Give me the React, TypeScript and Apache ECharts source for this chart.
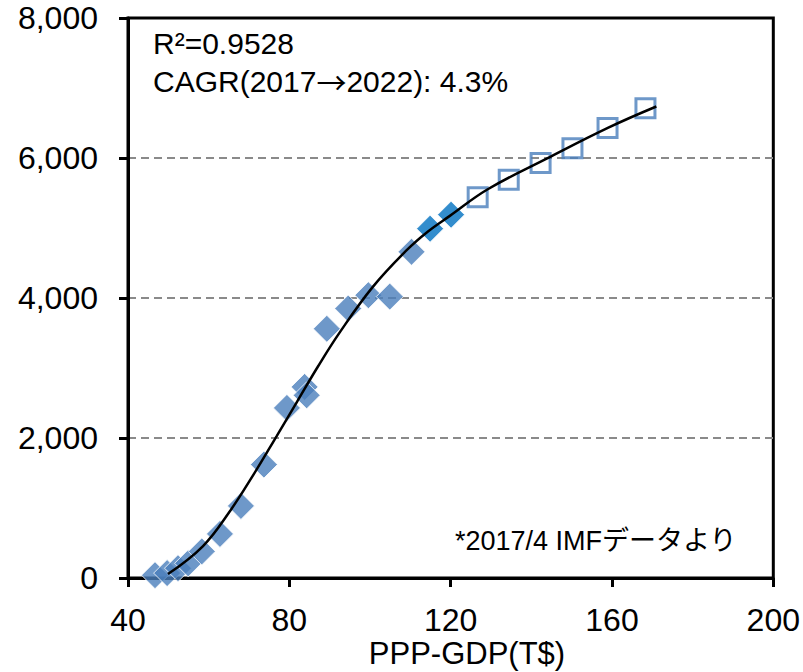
import React, { useEffect, useRef } from "react";
import * as echarts from "echarts";

// Actual data : PPP-GDP (T$) vs value
const actualX = [46.7, 49.7, 52.4, 54.9, 58.3, 62.8, 68.0, 73.7, 79.4, 83.8, 84.3, 89.3, 94.6, 99.6, 104.9, 110.3];
const actualY = [40, 70, 140, 210, 380, 630, 1030, 1620, 2430, 2730, 2610, 3560, 3850, 4040, 4020, 4660];

// Latest actual points (darker blue)
const recentX = [114.9, 120.1];
const recentY = [4990, 5190];

// Forecast points (hollow squares)
const forecastX = [126.7, 134.4, 142.3, 150.2, 158.9, 168.3];
const forecastY = [5440, 5690, 5930, 6140, 6430, 6710];

// Trend line
const trendX = [49.9, 58.6, 65.3, 71.0, 76.9, 81.9, 87.1, 92.5, 100.7, 109.1, 114.3, 119.8, 129.2, 143.8, 159.1, 171.0];
const trendY = [57, 457, 957, 1466, 2031, 2517, 3021, 3509, 4159, 4683, 4947, 5173, 5553, 5991, 6434, 6736];

const yTickLabels = ["0", "2,000", "4,000", "6,000", "8,000"];

const annotR2 = "R²=0.9528";
const annotCagrA = "CAGR(2017";
const annotCagrArrow = "→";
const annotCagrB = "2022): 4.3%";
const footnote = "*2017/4 IMFデータより";
const xTitle = "PPP-GDP(T$)";

const zip = (xs: number[], ys: number[]) => xs.map((x, i) => [x, ys[i]]);

export default function App() {
  const ref = useRef<HTMLDivElement>(null);
  useEffect(() => {
    const chart = echarts.init(ref.current as HTMLDivElement, null, { renderer: "svg" });
    const font = "'Liberation Sans', Arial, sans-serif";
    const cjk = "'Noto Sans CJK JP', sans-serif";
    chart.setOption({
      animation: false,
      backgroundColor: "#ffffff",
      textStyle: { fontFamily: font },
      grid: {
        left: 128,
        right: 29,
        top: 18,
        bottom: 94,
        show: true,
        borderColor: "#000",
        borderWidth: 3,
        backgroundColor: "transparent",
      },
      xAxis: {
        type: "value",
        min: 40,
        max: 200,
        interval: 40,
        axisLine: { show: true, onZero: false, lineStyle: { color: "#000", width: 3 } },
        axisTick: { show: true, inside: false, length: 9, lineStyle: { color: "#000", width: 3 } },
        axisLabel: { fontSize: 32, color: "#000", fontFamily: font, margin: 26 },
        splitLine: { show: false },
      },
      yAxis: {
        type: "value",
        min: 0,
        max: 8000,
        interval: 2000,
        axisLine: { show: true, onZero: false, lineStyle: { color: "#000", width: 3 } },
        axisTick: { show: true, inside: false, length: 9, lineStyle: { color: "#000", width: 3 } },
        axisLabel: {
          fontSize: 32,
          color: "#000",
          fontFamily: font,
          margin: 30,
          formatter: (v: number) => yTickLabels[Math.round(v / 2000)],
        },
        splitLine: {
          show: true,
          lineStyle: {
            color: ["transparent", "#8a8a8a", "#8a8a8a", "#8a8a8a", "transparent"],
            type: [8, 5],
            width: 2,
          },
        },
      },
      series: [
        {
          type: "scatter",
          data: zip(actualX, actualY),
          symbol: "diamond",
          symbolSize: 27,
          itemStyle: { color: "#4a7ebb", borderColor: "#ffffff", borderWidth: 1 },
          z: 2,
        },
        {
          type: "scatter",
          data: zip(recentX, recentY),
          symbol: "diamond",
          symbolSize: 27,
          itemStyle: { color: "#0070c0", borderColor: "#ffffff", borderWidth: 1 },
          z: 2,
        },
        {
          type: "scatter",
          data: zip(forecastX, forecastY),
          symbol: "rect",
          symbolSize: 19,
          itemStyle: { color: "rgba(255,255,255,0)", borderColor: "#4a7ebb", borderWidth: 3 },
          z: 3,
        },
        {
          type: "line",
          data: zip(trendX, trendY),
          smooth: 0.4,
          showSymbol: false,
          symbol: "none",
          lineStyle: { color: "#000", width: 2.5 },
          z: 4,
        },
      ],
      graphic: [
        {
          type: "text",
          left: 153,
          top: 28,
          z: 10,
          style: { text: annotR2, fontSize: 30, fontFamily: font, fill: "#000" },
        },
        {
          type: "text",
          left: 153,
          top: 66,
          z: 10,
          style: {
            text: `{a|${annotCagrA}}{b|${annotCagrArrow}}{a|${annotCagrB}}`,
            rich: {
              a: { fontSize: 30, fontFamily: font, color: "#000" },
              b: { fontSize: 30, fontFamily: cjk, color: "#000" },
            },
          },
        },
        {
          type: "text",
          right: 803 - 737,
          top: 527,
          z: 10,
          style: { text: footnote, fontSize: 27, fontFamily: "'Liberation Sans', 'Noto Sans CJK JP', sans-serif", fill: "#000" },
        },
        {
          type: "text",
          x: 467,
          y: 638,
          z: 10,
          style: { text: xTitle, fontSize: 31, fontFamily: font, fill: "#000", align: "center", verticalAlign: "top" },
        },
      ],
    });
    return () => chart.dispose();
  }, []);
  return (
    <div
      ref={ref}
      style={{ position: "absolute", left: 0, top: 0, width: 803, height: 672 }}
    />
  );
}
